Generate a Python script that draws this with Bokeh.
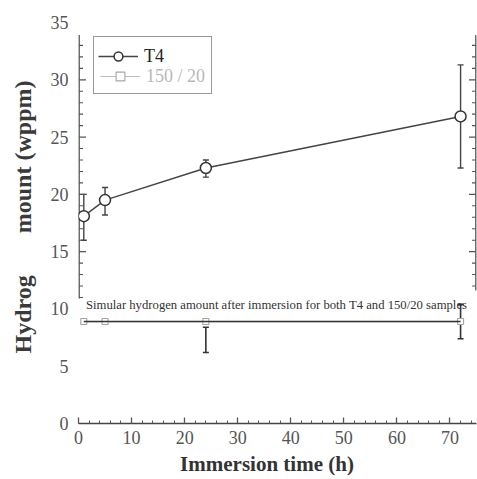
from bokeh.plotting import figure
from bokeh.models import (Range1d, ColumnDataSource, Whisker, TeeHead, Legend, LegendItem,
                          FixedTicker, SingleIntervalTicker)
from bokeh.core.properties import value
from bokeh.embed import file_html
from bokeh.resources import INLINE

# ---- data ----
t_hours = [1, 5, 24, 72]
t4_mean = [18.1, 19.5, 22.3, 26.8]
t4_low = [16.0, 18.2, 21.5, 22.3]
t4_high = [20.0, 20.6, 23.0, 31.3]

s150_hours = [1, 5, 24, 72]
s150_mean = [8.9, 8.9, 8.9, 8.9]
s150_err_hours = [24, 72]
s150_err_low = [6.2, 7.4]
s150_err_high = [8.4, 10.4]

y_tick_labels = [0, 5, 10, 15, 20, 25, 30, 35]
note = "Simular hydrogen amount after immersion for both T4 and 150/20 samples"

# ---- layout ----
W, H = 477, 479
BL, BR, BT, BB = 78, 1, 22, 56
X_END, Y_END = 75, 35
frame_w = W - BL - BR
ux = X_END / frame_w  # data units per pixel (x)

SERIF = "Liberation Serif"
nb = "\u00a0"

p = figure(width=W, height=H, x_range=Range1d(0, X_END), y_range=Range1d(0, Y_END),
           output_backend="svg", toolbar_location=None,
           min_border_left=BL, min_border_right=BR, min_border_top=BT, min_border_bottom=BB)
p.outline_line_color = None
p.xgrid.visible = False
p.ygrid.visible = False

# x axis
xa = p.xaxis[0]
xa.ticker = SingleIntervalTicker(interval=10, num_minor_ticks=5)
xa.axis_line_color = "#444"
xa.axis_line_width = 1.5
xa.major_tick_in = 6
xa.major_tick_out = 0
xa.minor_tick_in = 3
xa.minor_tick_out = 0
xa.major_tick_line_color = "#555"
xa.minor_tick_line_color = "#555"
xa.major_tick_line_width = 1.3
xa.major_label_text_font = SERIF
xa.major_label_text_font_size = "18px"
xa.major_label_text_color = "#555"
xa.major_label_standoff = 7
xa.axis_label = "Immersion time (h)" + nb * 4
xa.axis_label_text_font = SERIF
xa.axis_label_text_font_style = "bold"
xa.axis_label_text_font_size = "21px"
xa.axis_label_text_color = "#333"
xa.axis_label_standoff = 5

# y axis (labels only; line and ticks drawn below)
ya = p.yaxis[0]
ya.ticker = FixedTicker(ticks=y_tick_labels)
ya.axis_line_color = None
ya.major_tick_line_color = None
ya.minor_tick_line_color = None
ya.major_tick_in = 0
ya.major_tick_out = 0
ya.major_label_text_font = SERIF
ya.major_label_text_font_size = "18px"
ya.major_label_text_color = "#555"
ya.major_label_standoff = 10
ya.axis_label = nb * 2 + "Hydrog" + nb * 7 + "mount (wppm)"
ya.axis_label_text_font = SERIF
ya.axis_label_text_font_style = "bold"
ya.axis_label_text_font_size = "24px"
ya.axis_label_text_color = "#3a3a3a"
ya.axis_label_standoff = 12

# side axis lines with inward ticks (partial, as in the picture)
left_span = (10.9, 33.9)
right_span = (11.6, 33.9)
major_len = 7 * ux
minor_len = 4 * ux
for xpos, span, sign in [(0.1, left_span, 1), (X_END - 0.1, right_span, -1)]:
    p.segment(x0=[xpos], y0=[span[0]], x1=[xpos], y1=[span[1]], line_color="#444", line_width=1.5)
    majors = [v for v in range(0, 36, 5) if span[0] <= v <= span[1]]
    minors = [v for v in range(0, 36) if v % 5 and span[0] <= v <= span[1]]
    p.segment(x0=[xpos] * len(majors), y0=majors, x1=[xpos + sign * major_len] * len(majors), y1=majors,
              line_color="#555", line_width=1.3)
    p.segment(x0=[xpos] * len(minors), y0=minors, x1=[xpos + sign * minor_len] * len(minors), y1=minors,
              line_color="#555", line_width=1.1)

# ---- error bars ----
t4_src = ColumnDataSource(dict(x=t_hours, y=t4_mean, lo=t4_low, hi=t4_high))
w1 = Whisker(source=t4_src, base="x", lower="lo", upper="hi", line_color="#444", line_width=1.4,
             upper_head=TeeHead(size=6, line_color="#444", line_width=1.4),
             lower_head=TeeHead(size=6, line_color="#444", line_width=1.4))
w1.level = "underlay"
p.add_layout(w1)

s_src = ColumnDataSource(dict(x=s150_err_hours, lo=s150_err_low, hi=s150_err_high))
w2 = Whisker(source=s_src, base="x", lower="lo", upper="hi", line_color="#333", line_width=1.6,
             upper_head=TeeHead(size=6, line_color="#333", line_width=1.6),
             lower_head=TeeHead(size=6, line_color="#333", line_width=1.6))
p.add_layout(w2)

# ---- series ----
r_t4_line = p.line(t_hours, t4_mean, line_color="#444", line_width=1.4)
r_t4_pts = p.scatter(t_hours, t4_mean, marker="circle", size=11, fill_color="white",
                     line_color="#333", line_width=1.5)

# 150 / 20 series (light grey line + squares), overdrawn by the dark underline
r150_line = p.line(s150_hours, s150_mean, line_color="#bdbdbd", line_width=1.2)
r150_sq = p.scatter(s150_hours, s150_mean, marker="square", size=6, fill_color="white",
                    line_color="#a5a5a5", line_width=1.1)
p.line(s150_hours, s150_mean, line_color="#333", line_width=1.6)

# annotation text
p.text(x=[1.4], y=[10.3], text=[note], text_font=value(SERIF), text_font_size="12.7px",
       text_baseline="middle", text_align="left", text_color="#333")

# ---- legend ----
ROW = 22
PAD = 6
common = dict(spacing=0, label_height=ROW, glyph_height=ROW, glyph_width=40, label_standoff=6,
              label_text_font=SERIF, label_text_font_size="18px", margin=0)
legA_x, legA_y = 15, 329
# boxed legend: T4 glyph row (its label is supplied by legB) + grey 150 / 20 row
legA = Legend(items=[LegendItem(label=value(""), renderers=[r_t4_line, r_t4_pts]),
                     LegendItem(label=value("150 / 20"), renderers=[r150_line, r150_sq])],
              location=(legA_x, legA_y), padding=PAD, border_line_color="#333", border_line_width=1.3,
              background_fill_color="white", background_fill_alpha=1.0,
              label_text_color="#b8b8b8", **common)
# second legend over the first row only: gives "T4" its dark label colour
inset = 5
legA_h = 2 * PAD + 2 * ROW
legB_h = 2 * (PAD - inset) + ROW
legB = Legend(items=[LegendItem(label=value("T4"), renderers=[r_t4_line, r_t4_pts])],
              location=(legA_x + inset, legA_y + legA_h - inset - legB_h), padding=PAD - inset,
              border_line_color=None, background_fill_color="white", background_fill_alpha=1.0,
              label_text_color="#222", **common)
p.add_layout(legA)
p.add_layout(legB)

open("out.html", "w").write(file_html(p, INLINE))
